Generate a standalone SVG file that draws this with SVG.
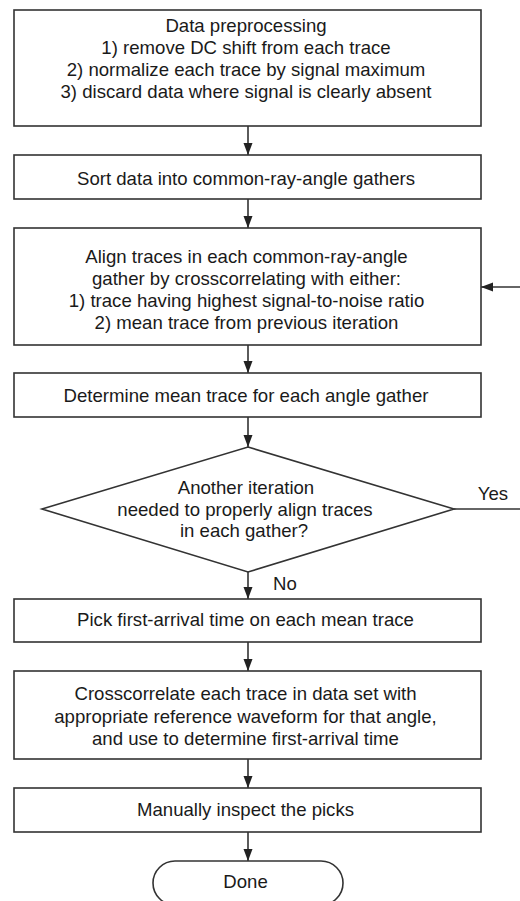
<svg xmlns="http://www.w3.org/2000/svg" width="520" height="901" viewBox="0 0 520 901">
<defs>
<style>
.box{fill:#fff;stroke:#333;stroke-width:1.6}
.t{font-family:"Liberation Sans",Arial,Helvetica,sans-serif;font-size:18.6px;fill:#1a1a1a;text-anchor:middle}
.l{fill:none;stroke:#333;stroke-width:1.6}
</style>
<marker id="ah" markerWidth="12" markerHeight="10" viewBox="0 0 12 10" refX="12" refY="5" orient="auto" markerUnits="userSpaceOnUse">
<path d="M0,0.5 L12,5 L0,9.5 Z" fill="#222"/>
</marker>
</defs>
<rect width="520" height="901" fill="#fff"/>
<g id="connectors">
<line class="l" x1="248" y1="126" x2="248" y2="155" marker-end="url(#ah)"/>
<line class="l" x1="248" y1="199" x2="248" y2="228" marker-end="url(#ah)"/>
<line class="l" x1="248" y1="345" x2="248" y2="373" marker-end="url(#ah)"/>
<line class="l" x1="248" y1="417" x2="248" y2="447" marker-end="url(#ah)"/>
<line class="l" x1="248" y1="572" x2="248" y2="599" marker-end="url(#ah)"/>
<line class="l" x1="248" y1="642" x2="248" y2="671" marker-end="url(#ah)"/>
<line class="l" x1="248" y1="759" x2="248" y2="788" marker-end="url(#ah)"/>
<line class="l" x1="248" y1="832" x2="248" y2="861" marker-end="url(#ah)"/>
<line class="l" x1="454" y1="509" x2="521" y2="509"/>
<line class="l" x1="521" y1="287" x2="481" y2="287" marker-end="url(#ah)"/>
<text class="t" x="493" y="500">Yes</text>
<text class="t" x="285" y="590">No</text>
</g>
<g id="n1">
<rect class="box" x="14" y="10" width="467" height="116"/>
<text class="t" x="246" y="32">Data preprocessing</text>
<text class="t" x="246" y="54">1) remove DC shift from each trace</text>
<text class="t" x="246" y="76">2) normalize each trace by signal maximum</text>
<text class="t" x="246" y="97.5">3) discard data where signal is clearly absent</text>
</g>
<g id="n2">
<rect class="box" x="14" y="155" width="467" height="44"/>
<text class="t" x="246" y="185">Sort data into common-ray-angle gathers</text>
</g>
<g id="n3">
<rect class="box" x="14" y="228" width="467" height="117"/>
<text class="t" x="246.5" y="262.5">Align traces in each common-ray-angle</text>
<text class="t" x="246.5" y="284.5">gather by crosscorrelating with either:</text>
<text class="t" x="246.5" y="307">1) trace having highest signal-to-noise ratio</text>
<text class="t" x="246.5" y="328.5">2) mean trace from previous iteration</text>
</g>
<g id="n4">
<rect class="box" x="14" y="373" width="467" height="44"/>
<text class="t" x="246" y="401.5">Determine mean trace for each angle gather</text>
</g>
<g id="n5">
<polygon class="box" points="248,447 454,509 248,572 42,509"/>
<text class="t" x="246" y="494">Another iteration</text>
<text class="t" x="245" y="515.5">needed to properly align traces</text>
<text class="t" x="244" y="536.5">in each gather?</text>
</g>
<g id="n6">
<rect class="box" x="14" y="599" width="467" height="43"/>
<text class="t" x="245.5" y="626">Pick first-arrival time on each mean trace</text>
</g>
<g id="n7">
<rect class="box" x="14" y="671" width="467" height="88"/>
<text class="t" x="245.5" y="700">Crosscorrelate each trace in data set with</text>
<text class="t" x="245.5" y="723">appropriate reference waveform for that angle,</text>
<text class="t" x="245.5" y="744.5">and use to determine first-arrival time</text>
</g>
<g id="n8">
<rect class="box" x="14" y="788" width="467" height="44"/>
<text class="t" x="245.5" y="815.5">Manually inspect the picks</text>
</g>
<g id="n9">
<rect class="box" x="153" y="861" width="190" height="44" rx="22" ry="22"/>
<text class="t" x="245.5" y="888">Done</text>
</g>
</svg>
